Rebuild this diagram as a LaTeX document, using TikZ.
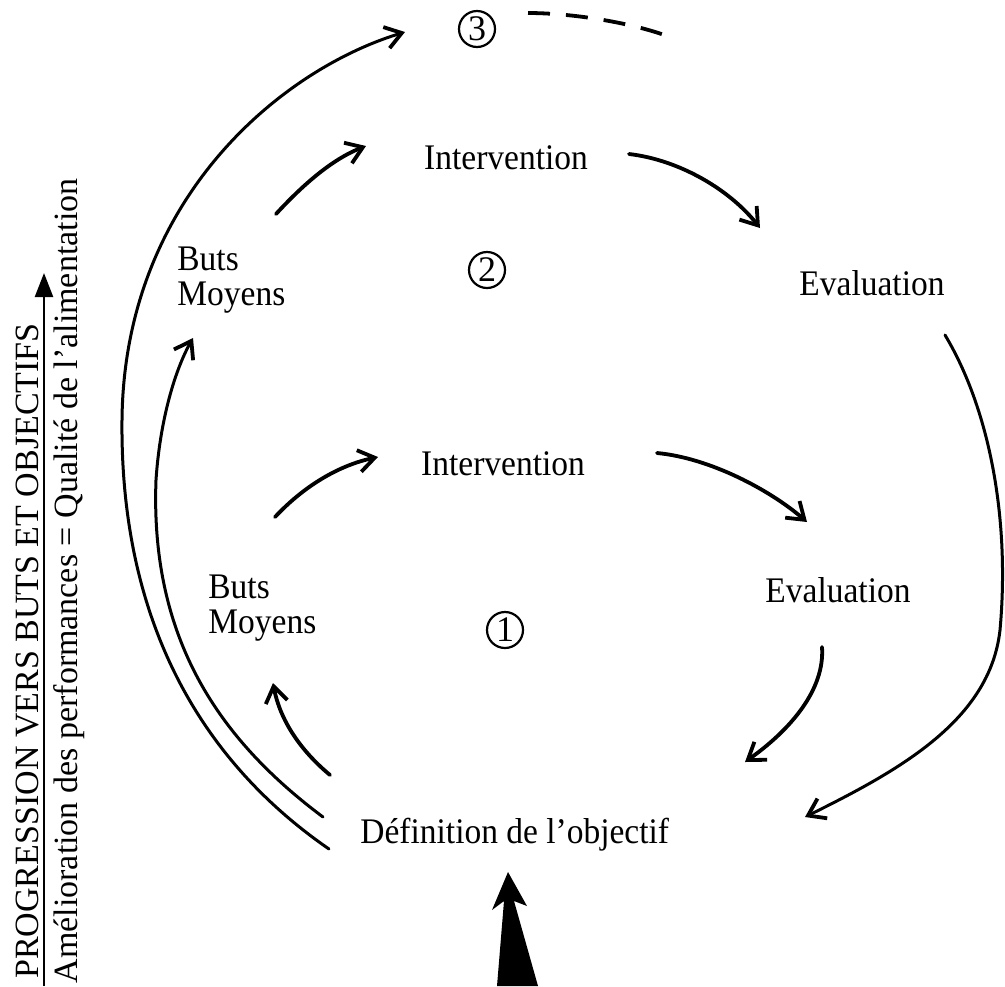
\documentclass[tikz,border=0pt]{standalone}
\usepackage{fontspec}
\setmainfont{Liberation Serif}
\newfontfamily\condfont[FakeStretch=0.93]{Liberation Serif}
\usetikzlibrary{arrows.meta}

\begin{document}
\begin{tikzpicture}[x=0.5pt, y=-0.5pt,
        txt/.style = {font=\condfont\fontsize{18}{17.5}\selectfont, inner sep=0pt, align=left},
        num/.style = {circle, draw, line width=1.1pt, minimum size=18pt, inner sep=0pt, font=\fontsize{18}{18}\selectfont},
        side/.style = {font=\fontsize{17}{17}\selectfont, inner sep=0pt, rotate=90, anchor=base},
        hand/.style = {line width=1.9pt, line cap=round, -{Straight Barb[length=8pt, width=11pt]}},
        long/.style = {line width=1.5pt, line cap=round, -{Straight Barb[length=8pt, width=11pt, line width=1.9pt]}}]
    \useasboundingbox (0,0) rectangle (1005,986);

    % left axis
    \node[side] (prog) at (38,651) {PROGRESSION VERS BUTS ET OBJECTIFS};
    \node[side] (amel) at (77,581) {Amélioration des performances = Qualité de l’alimentation};
    \coordinate (axisbot) at (44,986);
    \coordinate (axistop) at (44,273);
    \draw[line width=1.2pt, -{Triangle[length=12pt, width=9pt]}] (axisbot) -- (axistop);

    % labels
    \node[num] (c3) at (477,29) {3};
    \node[txt] (int2) at (506,158) {Intervention};
    \node[txt] (eva2) at (872,283) {Evaluation};
    \node[txt, anchor=north west] (buts2) at (177,247) {Buts\\Moyens};
    \node[num] (c2) at (487,270) {2};
    \node[txt] (int1) at (503,464) {Intervention};
    \node[txt] (eva1) at (838,590) {Evaluation};
    \node[txt, anchor=north west] (buts1) at (208,575) {Buts\\Moyens};
    \node[num] (c1) at (505,630) {1};
    \node[txt, anchor=base west] (def) at (360,843) {Définition de l’objectif};

    % arrow ends
    \coordinate (outA) at (329,849);  \coordinate (outB) at (405,32);
    \coordinate (inA) at (323,817);   \coordinate (inB) at (193,338);
    \coordinate (bA) at (330,775);    \coordinate (bB) at (273,683);
    \coordinate (ib1A) at (275,517);  \coordinate (ib1B) at (378,457);
    \coordinate (ib2A) at (276,214);  \coordinate (ib2B) at (366,146);
    \coordinate (ie2A) at (629,154);  \coordinate (ie2B) at (760,228);
    \coordinate (ie1A) at (657,453);  \coordinate (ie1B) at (807,522);
    \coordinate (edA) at (822,647);   \coordinate (edB) at (745,762);
    \coordinate (bigA) at (945,335);  \coordinate (bigB) at (805,817);
    \coordinate (dashA) at (528,13);  \coordinate (dashB) at (670,37);

    % cycle 1
    \draw[hand] (bA) .. controls (300,750) and (280,720) .. (bB);
    \draw[hand] (ib1A) .. controls (305,485) and (340,465) .. (ib1B);
    \draw[hand] (ie1A) .. controls (710,458) and (770,490) .. (ie1B);
    \draw[hand] (edA) .. controls (825,690) and (790,730) .. (edB);
    % cycle 2
    \draw[long] (inA) .. controls (220,740) and (150,640) .. (156,480) .. controls (160,420) and (175,370) .. (inB);
    \draw[hand] (ib2A) .. controls (300,188) and (330,160) .. (ib2B);
    \draw[hand] (ie2A) .. controls (680,160) and (730,190) .. (ie2B);
    \draw[long] (bigA) .. controls (990,410) and (1010,520) .. (1000,630) .. controls (990,720) and (900,770) .. (bigB);
    % cycle 3
    \draw[long] (outA) .. controls (200,760) and (120,620) .. (122,420) .. controls (124,200) and (280,70) .. (outB);
    \draw[line width=1.9pt, dash pattern=on 11pt off 8pt] (dashA) .. controls (570,13) and (630,22) .. (dashB);

    % entry arrow
    \fill (508,872) -- (527,906) -- (514,901) -- (538,986) -- (497,986) -- (504,901) -- (492,910) -- cycle;
\end{tikzpicture}
\end{document}
